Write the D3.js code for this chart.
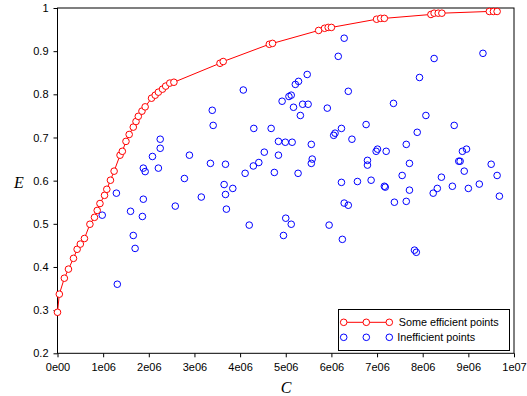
<!DOCTYPE html>
<html>
<head>
<meta charset="utf-8">
<script src="https://cdn.jsdelivr.net/npm/d3@7"></script>
<style>
  html, body { margin: 0; padding: 0; background: #fff; }
  svg { display: block; }
  .tick text { font-family: "Liberation Sans", Arial, sans-serif; font-size: 11px; fill: #000; }
  .lbl { font-family: "Liberation Serif", "Times New Roman", serif; font-style: italic; font-size: 16px; fill: #000; }
  .leg { font-family: "Liberation Sans", Arial, sans-serif; font-size: 10.8px; fill: #000; }
</style>
</head>
<body>
<svg id="chart" width="527" height="396"></svg>
<script>
// efficient frontier (C in units of 1e6, E)
const effC = [0, 0.04, 0.15, 0.24, 0.35, 0.43, 0.50, 0.59, 0.71, 0.81, 0.87, 0.93, 1.03, 1.08, 1.16, 1.24,
  1.37, 1.42, 1.50, 1.57, 1.66, 1.72, 1.77, 1.85, 1.92, 2.06, 2.14, 2.21, 2.30, 2.37, 2.46, 2.55,
  3.56, 3.63, 4.64, 4.71, 5.72, 5.85, 5.93, 6.00, 6.99, 7.08, 7.16, 8.18, 8.25, 8.34, 8.42, 9.46, 9.55, 9.63];
const effE = [0.295, 0.337, 0.374, 0.395, 0.420, 0.441, 0.453, 0.466, 0.499, 0.515, 0.531, 0.547, 0.566, 0.580, 0.601, 0.622,
  0.659, 0.668, 0.691, 0.707, 0.724, 0.737, 0.749, 0.761, 0.771, 0.791, 0.798, 0.805, 0.812, 0.819, 0.826, 0.828,
  0.872, 0.876, 0.916, 0.918, 0.948, 0.953, 0.955, 0.955, 0.974, 0.976, 0.976, 0.985, 0.988, 0.988, 0.988, 0.992, 0.992, 0.992];

// inefficient points
const ineffC = [3.39, 3.41, 2.25, 2.25, 2.08, 2.89, 3.35, 1.88, 1.92, 2.21, 2.78, 3.68, 3.65, 3.84, 3.68, 4.11,
  4.29, 4.41, 4.53, 4.30, 4.07, 3.15, 1.88, 1.29, 6.28, 6.15, 5.47, 5.28, 5.21, 6.37, 5.12, 5.07,
  4.92, 5.37, 5.49, 5.17, 5.91, 5.32, 4.68, 6.22, 6.08, 6.05, 6.45, 4.84, 4.99, 5.14, 5.56, 4.84,
  5.58, 5.56, 4.75, 5.27, 9.32, 8.25, 7.93, 7.36, 8.07, 6.76, 8.69, 7.88, 7.64, 7.01, 6.98, 7.20,
  8.96, 8.87, 6.79, 6.79, 7.71, 8.79, 8.82, 8.91, 9.50, 7.55, 8.41, 9.63, 0.98, 1.60, 1.86, 2.58,
  1.66, 1.70, 1.31, 3.70, 4.20, 5.00, 5.12, 4.95, 6.22, 6.57, 6.28, 6.37, 5.95, 6.24, 6.87, 7.16,
  7.18, 7.71, 7.38, 7.64, 8.23, 8.32, 8.65, 9.00, 9.24, 9.68, 7.82, 7.86];
const ineffE = [0.763, 0.728, 0.696, 0.675, 0.656, 0.659, 0.640, 0.629, 0.621, 0.629, 0.605, 0.638, 0.591, 0.582, 0.568, 0.617,
  0.634, 0.642, 0.666, 0.721, 0.810, 0.562, 0.557, 0.571, 0.930, 0.888, 0.846, 0.830, 0.823, 0.807, 0.798, 0.795,
  0.784, 0.777, 0.777, 0.770, 0.768, 0.751, 0.721, 0.721, 0.710, 0.705, 0.696, 0.691, 0.689, 0.689, 0.684, 0.659,
  0.650, 0.640, 0.619, 0.617, 0.895, 0.883, 0.839, 0.779, 0.751, 0.730, 0.728, 0.712, 0.684, 0.673, 0.668, 0.668,
  0.673, 0.668, 0.647, 0.636, 0.640, 0.645, 0.645, 0.622, 0.638, 0.612, 0.608, 0.612, 0.520, 0.529, 0.517, 0.541,
  0.473, 0.443, 0.360, 0.534, 0.497, 0.513, 0.499, 0.473, 0.596, 0.598, 0.548, 0.543, 0.497, 0.464, 0.601, 0.587,
  0.585, 0.578, 0.550, 0.552, 0.571, 0.582, 0.587, 0.582, 0.592, 0.564, 0.439, 0.434];

const xTickVals = [0, 1, 2, 3, 4, 5, 6, 7, 8, 9, 10];
const xTickLabels = ["0e00", "1e06", "2e06", "3e06", "4e06", "5e06", "6e06", "7e06", "8e06", "9e06", "1e07"];
const yTickVals = [0.2, 0.3, 0.4, 0.5, 0.6, 0.7, 0.8, 0.9, 1];
const yTickLabels = ["0.2", "0.3", "0.4", "0.5", "0.6", "0.7", "0.8", "0.9", "1"];
const legendLabels = ["Some efficient points", "Inefficient points"];

const RED = "#ff0000", BLUE = "#0000ff", R = 3.3;
const L = 57.5, Rt = 514, T = 8, B = 353.3;
const svg = d3.select("#chart");
const x = d3.scaleLinear().domain([0, 10]).range([L, Rt]);
const y = d3.scaleLinear().domain([0.2, 1]).range([B, T]);

// frame
svg.append("rect").attr("x", L).attr("y", T).attr("width", Rt - L).attr("height", B - T)
  .attr("fill", "none").attr("stroke", "#000").attr("stroke-width", 1);

// minor + major ticks
const gx = svg.append("g").attr("transform", `translate(0,${B})`);
gx.call(d3.axisBottom(x).tickValues(d3.range(0, 10.01, 0.5)).tickSize(2.5).tickFormat(""))
  .call(g => g.select(".domain").remove());
gx.call(d3.axisBottom(x).tickValues(xTickVals).tickSize(4).tickPadding(6).tickFormat((d, i) => xTickLabels[i]))
  .call(g => g.selectAll(".domain").remove());
const gy = svg.append("g").attr("transform", `translate(${L},0)`);
gy.call(d3.axisLeft(y).tickValues(d3.range(0.2, 1.001, 0.05)).tickSize(2.5).tickFormat(""))
  .call(g => g.select(".domain").remove());
gy.call(d3.axisLeft(y).tickValues(yTickVals).tickSize(4).tickPadding(5).tickFormat((d, i) => yTickLabels[i]))
  .call(g => g.selectAll(".domain").remove());
svg.selectAll(".tick line").attr("stroke", "#000");

// axis labels
svg.append("text").attr("class", "lbl").attr("x", 19).attr("y", 188).attr("text-anchor", "middle").text("E");
svg.append("text").attr("class", "lbl").attr("x", 286).attr("y", 393).attr("text-anchor", "middle").text("C");

// inefficient points
svg.append("g").selectAll("circle").data(ineffC).join("circle")
  .attr("cx", d => x(d)).attr("cy", (d, i) => y(ineffE[i])).attr("r", R)
  .attr("fill", "none").attr("stroke", BLUE).attr("stroke-width", 1);

// efficient frontier
const eff = effC.map((c, i) => [c, effE[i]]);
svg.append("path").datum(eff).attr("d", d3.line().x(d => x(d[0])).y(d => y(d[1])))
  .attr("fill", "none").attr("stroke", RED).attr("stroke-width", 1);
svg.append("g").selectAll("circle").data(eff).join("circle")
  .attr("cx", d => x(d[0])).attr("cy", d => y(d[1])).attr("r", R)
  .attr("fill", "#fff").attr("stroke", RED).attr("stroke-width", 1);

// legend
const lg = svg.append("g");
lg.append("rect").attr("x", 338.5).attr("y", 309.5).attr("width", 171).attr("height", 41)
  .attr("fill", "#fff").attr("stroke", "#000").attr("stroke-width", 1);
const lx = [343.7, 366.3, 389.3];
[RED, BLUE].forEach((col, k) => {
  const ly = 322.3 + k * 15;
  if (k === 0) lg.append("line").attr("x1", lx[0]).attr("x2", lx[2]).attr("y1", ly).attr("y2", ly).attr("stroke", col);
  lx.forEach(px => lg.append("circle").attr("cx", px).attr("cy", ly).attr("r", R)
    .attr("fill", "#fff").attr("stroke", col).attr("stroke-width", 1));
  lg.append("text").attr("class", "leg").attr("x", k === 0 ? 398.7 : 397.3).attr("y", ly + 4).text(legendLabels[k]);
});
</script>
</body>
</html>
